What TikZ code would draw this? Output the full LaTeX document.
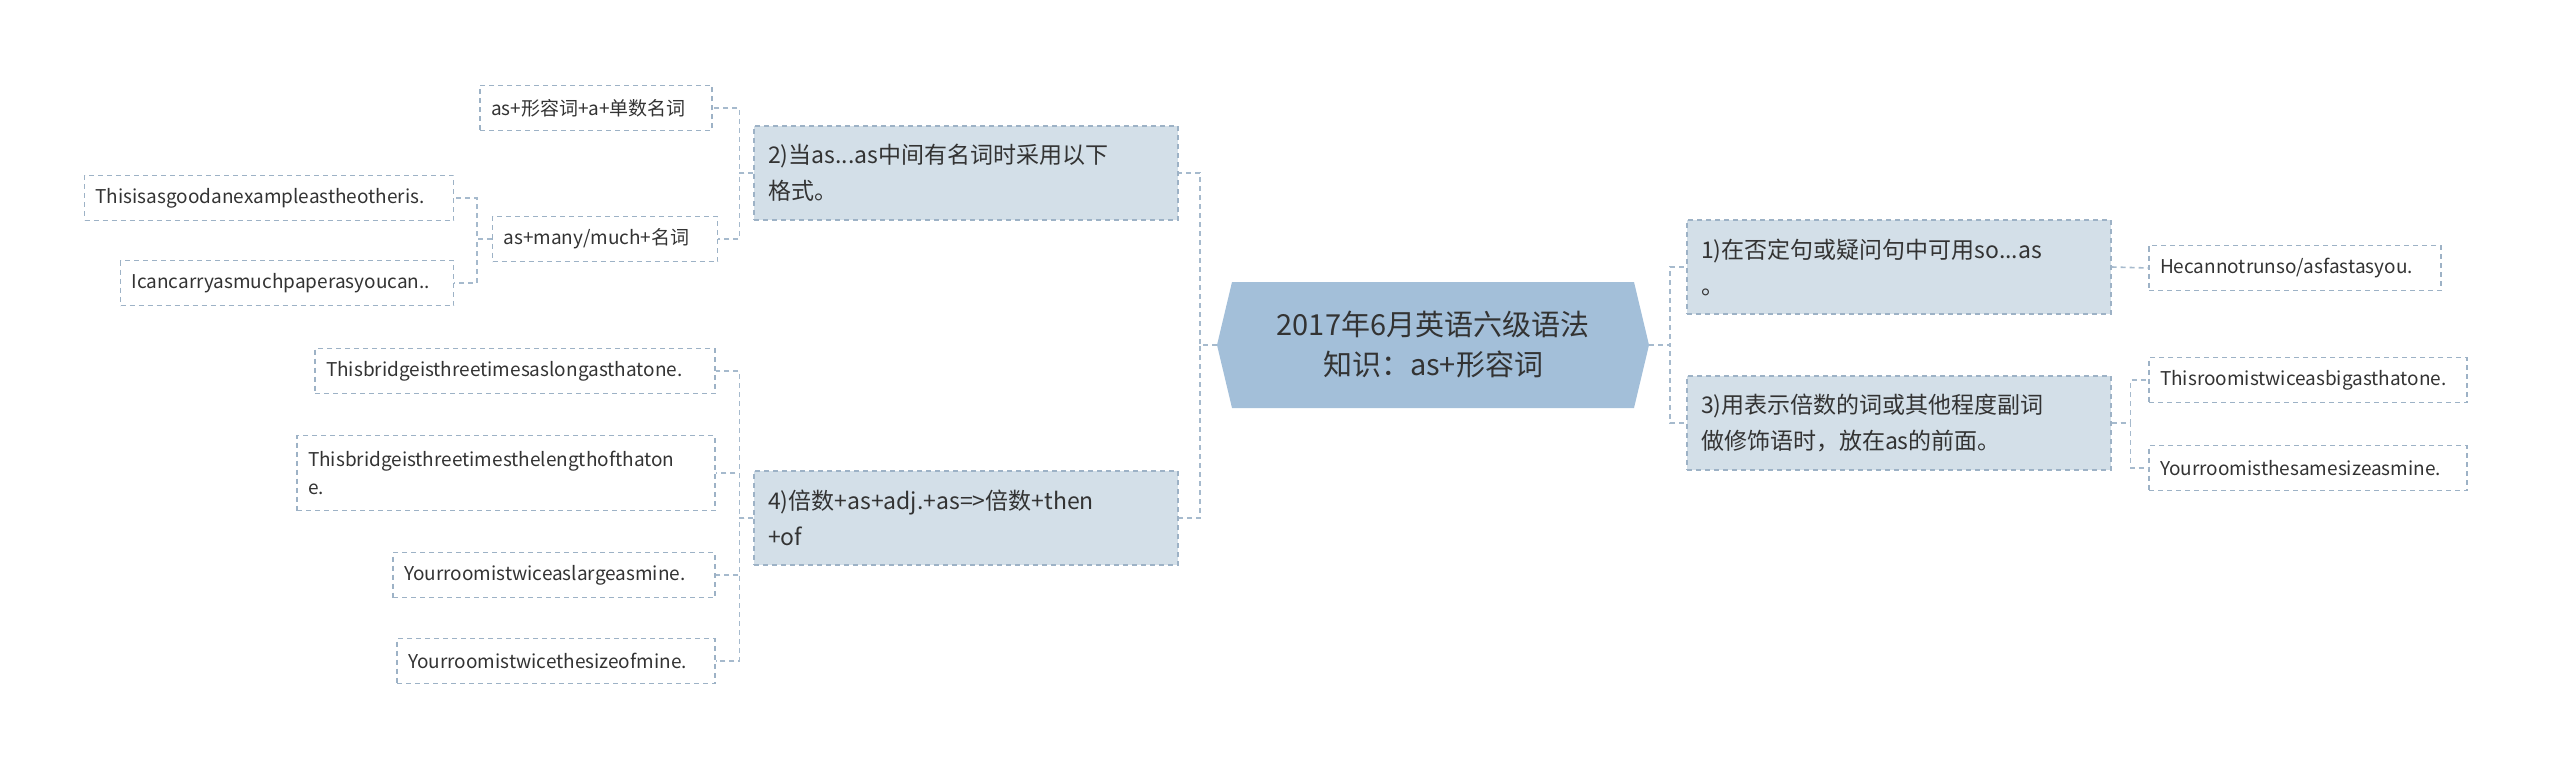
\documentclass[tikz,border=0pt]{standalone}
\usepackage{fontspec}
\setmainfont{Noto Sans CJK SC}
\definecolor{rootfill}{HTML}{A3BFD9}
\definecolor{l1fill}{HTML}{D3DFE8}
\definecolor{bordc}{HTML}{9DB2C6}
\definecolor{linec}{HTML}{A6BACD}
\definecolor{txt}{HTML}{333333}
\begin{document}
\begin{tikzpicture}[x=1pt,y=-1pt,
  lone/.style={draw=bordc,fill=l1fill,dash pattern=on 5pt off 4pt,line width=1.2pt,inner sep=0pt,minimum width=424pt,minimum height=94pt,text width=396pt,align=left,font=\fontsize{23}{36}\selectfont,text=txt},
  leaf/.style={draw=bordc,dash pattern=on 5pt off 4pt,line width=1.2pt,inner sep=0pt,minimum height=45pt,align=left,font=\fontsize{19}{28}\selectfont,text=txt},
  lw/.style={minimum width=#1,text width=#1-22pt},
  conn/.style={draw=linec,dash pattern=on 5pt off 4pt,line width=1.6pt}]
\useasboundingbox (0,0) rectangle (2560,773);
% root
\fill[rootfill] (1217,345) -- (1232,282) -- (1634,282) -- (1649,345) -- (1634,408) -- (1232,408) -- cycle;
\node[font=\fontsize{29}{40}\selectfont,text=txt,align=center,inner sep=0pt,minimum width=432pt,minimum height=126pt] (root) at (1433,345) {2017年6月英语六级语法\\知识：as+形容词};
% level 1
\node[lone] (n1) at (1899,267) {1)在否定句或疑问句中可用so...as\\。};
\node[lone] (n3) at (1899,423) {3)用表示倍数的词或其他程度副词\\做修饰语时，放在as的前面。};
\node[lone] (n2) at (966,173) {2)当as...as中间有名词时采用以下\\格式。};
\node[lone] (n4) at (966,518) {4)倍数+as+adj.+as=>倍数+then\\+of};
% leaves right
\node[leaf,lw=292pt] (r1) at (2295,268) {Hecannotrunso/asfastasyou.};
\node[leaf,lw=318pt] (r2) at (2308,380) {Thisroomistwiceasbigasthatone.};
\node[leaf,lw=318pt] (r3) at (2308,468) {Yourroomisthesamesizeasmine.};
% leaves of 2)
\node[leaf,lw=232pt] (a1) at (596,108) {as+形容词+a+单数名词};
\node[leaf,lw=225pt] (a2) at (605,239) {as+many/much+名词};
\node[leaf,lw=369pt] (b1) at (269,198) {Thisisasgoodanexampleastheotheris.};
\node[leaf,lw=333pt] (b2) at (287,283) {Icancarryasmuchpaperasyoucan..};
% leaves of 4)
\node[leaf,lw=400pt] (c1) at (515,371) {Thisbridgeisthreetimesaslongasthatone.};
\node[leaf,lw=418pt,minimum height=75pt] (c2) at (506,473) {Thisbridgeisthreetimesthelengthofthaton\\e.};
\node[leaf,lw=322pt] (c3) at (554,575) {Yourroomistwiceaslargeasmine.};
\node[leaf,lw=318pt] (c4) at (556,661) {Yourroomistwicethesizeofmine.};
% connectors
\draw[conn] (root.west) -- ++(-17,0) |- (n2.east);
\draw[conn] (root.west) -- ++(-17,0) |- (n4.east);
\draw[conn] (root.east) -- ++(21,0) |- (n1.west);
\draw[conn] (root.east) -- ++(21,0) |- (n3.west);
\draw[conn] (n1.east) -- (r1.west);
\draw[conn] (n3.east) -- ++(19,0) |- (r2.west);
\draw[conn] (n3.east) -- ++(19,0) |- (r3.west);
\draw[conn] (n2.west) -- ++(-14,0) |- (a1.east);
\draw[conn] (n2.west) -- ++(-14,0) |- (a2.east);
\draw[conn] (a2.west) -- ++(-15,0) |- (b1.east);
\draw[conn] (a2.west) -- ++(-15,0) |- (b2.east);
\draw[conn] (n4.west) -- ++(-14,0) |- (c1.east);
\draw[conn] (n4.west) -- ++(-14,0) |- (c2.east);
\draw[conn] (n4.west) -- ++(-14,0) |- (c3.east);
\draw[conn] (n4.west) -- ++(-14,0) |- (c4.east);
\end{tikzpicture}
\end{document}
